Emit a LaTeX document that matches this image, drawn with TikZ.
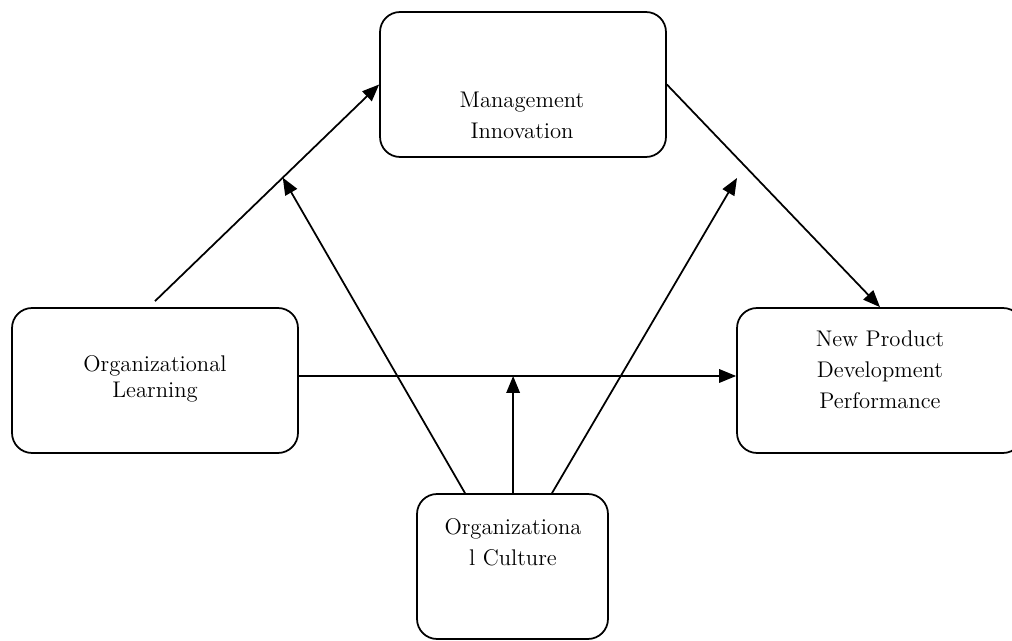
\documentclass[tikz,border=0pt]{standalone}
\usetikzlibrary{arrows.meta}
\begin{document}
\begin{tikzpicture}
    [x=0.02cm,y=-0.02cm,line width=1pt,
     block/.style={draw,rounded corners=0.4cm,minimum width=5.72cm,minimum height=2.9cm},
     txt/.style={align=center,font=\fontsize{12.9}{17.6}\selectfont},
     arr/.style={-{Triangle[length=3.4mm,width=2.7mm]}}]
    \useasboundingbox (0,0) rectangle (1012,641);
    \node[block] (mi) at (523,84.5) {};
    \node[block] (ol) at (155,380.5) {};
    \node[block] (npd) at (880,380.5) {};
    \node[block,minimum width=3.82cm] (oc) at (512.5,566.5) {};
    \node[txt] (mitxt) at (522,115.5) {Management\\Innovation};
    \node[txt,font=\fontsize{12.9}{14.8}\selectfont] (oltxt) at (155,379) {Organizational\\Learning};
    \node[txt] (npdtxt) at (880,369.5) {New Product\\Development\\Performance};
    \node[txt] (octxt) at (513,542) {Organizationa\\l Culture};
    \coordinate (m3) at (737,178);
    \draw[arr] ([yshift=0.12cm]ol.north) -- coordinate[pos=0.57] (m1) (mi.west);
    \draw[arr] ([yshift=0.09cm]ol.east) -- coordinate[pos=0.49] (m2) ([yshift=0.09cm]npd.west);
    \draw[arr] (mi.east) -- (npd.north);
    \draw[arr] ([xshift=-0.95cm]oc.north) -- (m1);
    \draw[arr] (oc.north -| m2) -- (m2);
    \draw[arr] ([xshift=0.79cm]oc.north) -- (m3);
\end{tikzpicture}
\end{document}
